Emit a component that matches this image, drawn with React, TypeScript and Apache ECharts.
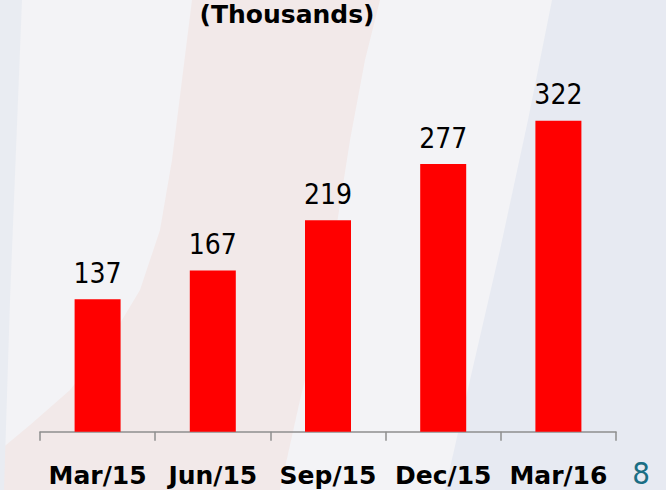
import React, { useEffect, useRef } from "react";
import * as echarts from "echarts";

const categories = ["Mar/15", "Jun/15", "Sep/15", "Dec/15", "Mar/16"];
const values = [137, 167, 219, 277, 322];
const titleText = "(Thousands)";
const pageNumber = "8";

export default function App() {
  const ref = useRef<HTMLDivElement>(null);
  useEffect(() => {
    if (!ref.current) return;
    const chart = echarts.init(ref.current, null, { renderer: "svg" });
    chart.setOption({
      animation: false,
      backgroundColor: "#f3f3f6",
      graphic: [
        {
          type: "polygon",
          z: -10,
          silent: true,
          shape: {
            points: [
              [192, 0], [380, 0], [365, 60], [350, 140], [336, 230], [320, 320], [300, 400], [280, 490],
              [0, 490], [0, 450], [30, 425], [70, 390], [110, 340], [140, 290], [160, 230], [172, 160], [182, 80],
            ],
          },
          style: { fill: "#f2e9e9" },
        },
        {
          type: "polygon",
          z: -10,
          silent: true,
          shape: {
            points: [[552, 0], [666, 0], [666, 490], [445, 490], [470, 380], [500, 250], [528, 120]],
          },
          style: { fill: "#e7eaf2" },
        },
        {
          type: "polygon",
          z: -10,
          silent: true,
          shape: { points: [[0, 0], [22, 0], [10, 300], [4, 490], [0, 490]] },
          style: { fill: "#e9ecf2" },
        },
        {
          type: "text",
          x: 287,
          y: 14,
          style: {
            text: titleText,
            fill: "#000",
            font: "bold 25px 'DejaVu Sans'",
            textAlign: "center",
            textVerticalAlign: "middle",
          },
        },
        {
          type: "text",
          x: 641,
          y: 473,
          style: {
            text: pageNumber,
            fill: "#1b6e84",
            font: "31px 'DejaVu Sans Condensed', 'DejaVu Sans'",
            textAlign: "center",
            textVerticalAlign: "middle",
          },
        },
      ],
      grid: { left: 40, right: 50, top: 45.3, bottom: 58.3 },
      xAxis: {
        type: "category",
        data: categories,
        axisLine: { show: true, lineStyle: { color: "#8e8e8e", width: 1.5 } },
        axisTick: { show: true, interval: 0, length: 9, lineStyle: { color: "#8e8e8e", width: 1.5 } },
        axisLabel: {
          interval: 0,
          margin: 31,
          color: "#000",
          fontSize: 25,
          fontWeight: "bold",
          fontFamily: "DejaVu Sans",
        },
      },
      yAxis: {
        type: "value",
        min: 0,
        max: 400,
        show: false,
        splitLine: { show: false },
      },
      series: [
        {
          type: "bar",
          data: values,
          barWidth: 46,
          itemStyle: { color: "#ff0000" },
          label: {
            show: true,
            position: "top",
            distance: 12,
            color: "#000",
            fontSize: 28,
            fontFamily: "DejaVu Sans Condensed, DejaVu Sans",
          },
        },
      ],
    });
    return () => chart.dispose();
  }, []);
  return <div ref={ref} style={{ width: 666, height: 490, position: "absolute", left: 0, top: 0 }} />;
}
